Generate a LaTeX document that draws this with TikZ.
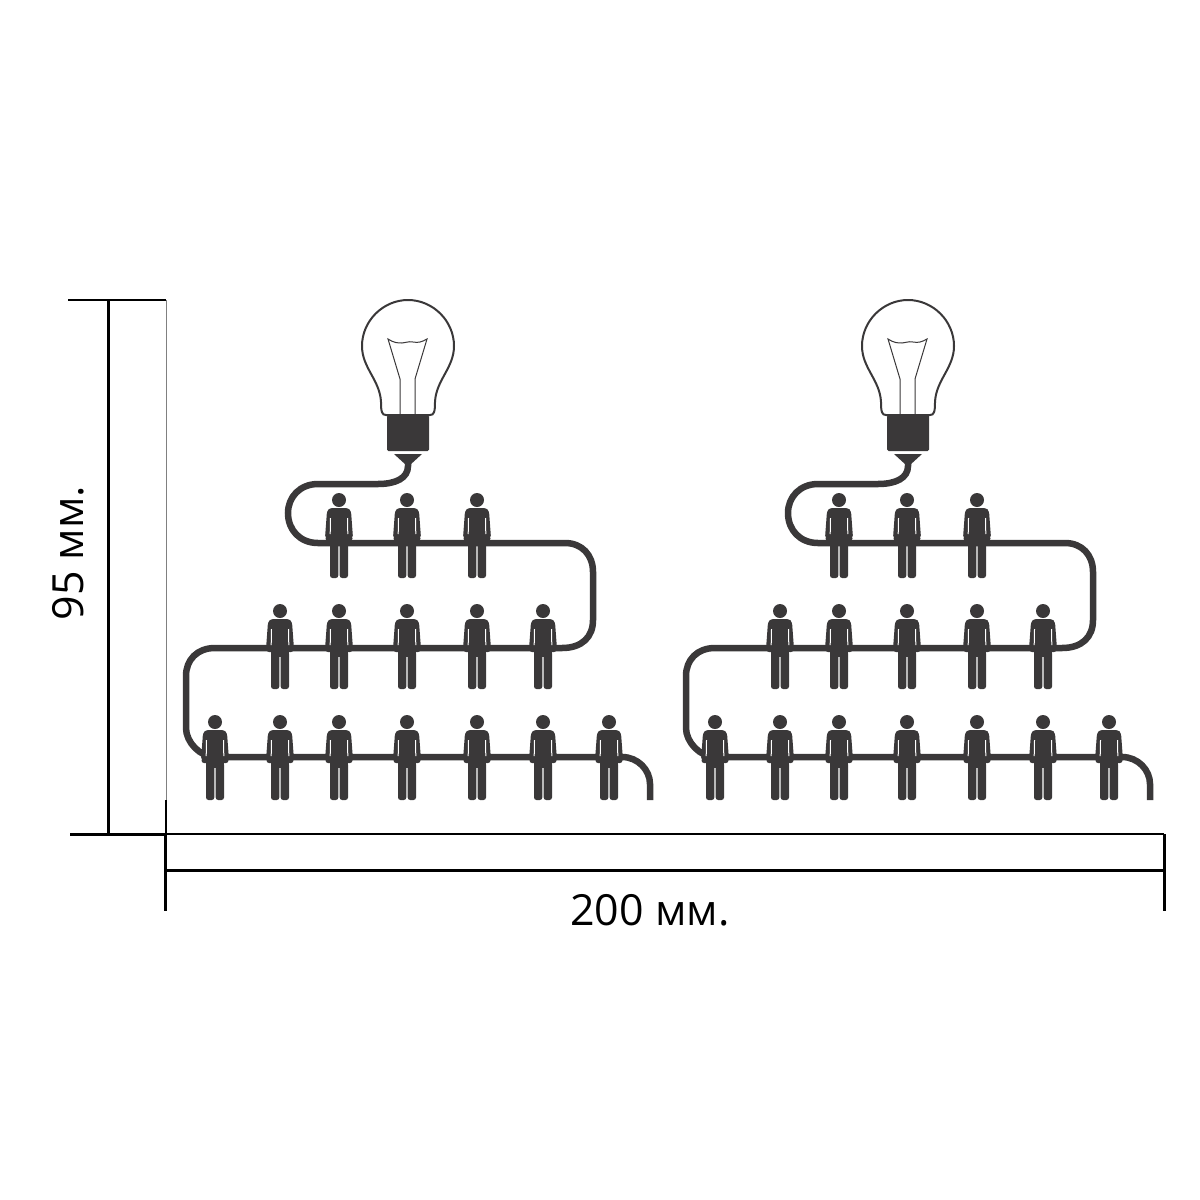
\documentclass[tikz,border=0pt]{standalone}
\usepackage{fontspec}
\setmainfont{Open Sans}
\usepackage{xcolor}
\usetikzlibrary{calc}
\definecolor{DarkInk}{HTML}{3A3839}
\tikzset{
  wire/.style={line width=6.5*0.2845pt,color=DarkInk},
  glass/.style={line width=2*0.2845pt,color=DarkInk},
  filament/.style={line width=1*0.2845pt,color=DarkInk},
  dimline/.style={line width=3*0.2845pt,color=black},
  dimthin/.style={line width=2.2*0.2845pt,color=black},
  person/.pic={
    \fill[DarkInk] (0,0) circle (7);
    \fill[DarkInk,rounded corners=2.5*0.2845pt] (-9,8) -- (9,8) -- (12,11) -- (14,38) -- (9,38) -- (-9,38) -- (-14,38) -- (-12,11) -- cycle;
    \fill[DarkInk,rounded corners=2.5*0.2845pt] (-13.5,36) rectangle (13.5,41);
    \fill[DarkInk] (-9,36) rectangle (9,46);
    \fill[DarkInk,rounded corners=2.5*0.2845pt] (-9,40) rectangle (-0.7,78);
    \fill[DarkInk,rounded corners=2.5*0.2845pt] (0.7,40) rectangle (9,78);
    \draw[white,line width=1*0.2845pt] (-8.5,18) -- (-8.8,34);
    \draw[white,line width=1*0.2845pt] (8.5,18) -- (8.8,34);
  },
  lamp/.pic={
    % glass
    \draw[glass] (-22,69) .. controls (-26,69) and (-27,66) .. (-27,56) .. controls (-28,34) and (-46,22) .. (-46,0) .. controls (-46,-25) and (-25,-46) .. (0,-46) .. controls (25,-46) and (46,-25) .. (46,0) .. controls (46,22) and (28,34) .. (27,56) .. controls (27,66) and (26,69) .. (22,69) -- cycle;
    % filament
    \draw[filament] (-8,69) -- (-8,33) -- (-20,-7) .. controls (-14,-3) and (-10,-3) .. (-6,-3) .. controls (-2,-3) and (0,-5) .. (5,-4) .. controls (10,-3) and (14,-4) .. (19,-7) -- (7,33) -- (7,69);
    % socket and plug
    \fill[DarkInk,rounded corners=1.5*0.2845pt] (-21,69) rectangle (21,105);
    \fill[DarkInk] (-14,108) -- (14,108) -- (2,119) -- (-2,119) -- cycle;
  }
}
\begin{document}
\begin{tikzpicture}[x=0.01cm,y=-0.01cm,line cap=butt]
\useasboundingbox (0,0) rectangle (1200,1200);
\foreach \gx in {0,500}{
  \begin{scope}[xshift=\gx*0.01cm]
  % cable behind the people
  \draw[wire] (408,462) -- (408,466) .. controls (408,478) and (396,484) .. (378,484) -- (318,484) .. controls (300,484) and (288,497) .. (288,513) .. controls (288,530) and (300,543) .. (318,543) -- (565,543) .. controls (582,543) and (593,555) .. (593,572) -- (593,620) .. controls (593,637) and (582,648) .. (562,648) -- (215,648) .. controls (197,648) and (186,660) .. (186,676) -- (186,728) .. controls (186,742) and (200,757) .. (215,757) -- (622,757) .. controls (638,757) and (650,770) .. (650,784) -- (650,800);
  \pic at (408,346) {lamp};
  \foreach \px in {339,407,477} \pic at (\px,500) {person};
  \foreach \px in {280,339,407,477,543} \pic at (\px,611) {person};
  \foreach \px in {215,280,339,407,477,543,609} \pic at (\px,722) {person};
  \end{scope}
}
% dimensions
\draw[dimthin] (68,300) -- (166,300);
\draw[dimline] (70,834) -- (166,834);
\draw[dimline] (108,300) -- (108,834);
\draw[line width=0.8*0.2845pt,color=gray] (166,300) -- (166,800);
\draw[dimthin] (166,800) -- (166,834);
\draw[dimthin] (166,834) -- (1164,834);
\draw[dimline] (165,834) -- (165,911);
\draw[dimline] (1164,834) -- (1164,911);
\draw[dimline] (165,870) -- (1164,870);
\node[rotate=90,inner sep=0pt,font=\fontsize{12.2}{14}\selectfont] (height) at (68,553) {95 мм.};
\node[inner sep=0pt,font=\fontsize{12.2}{14}\selectfont] (width) at (650,910) {200 мм.};
\end{tikzpicture}
\end{document}
